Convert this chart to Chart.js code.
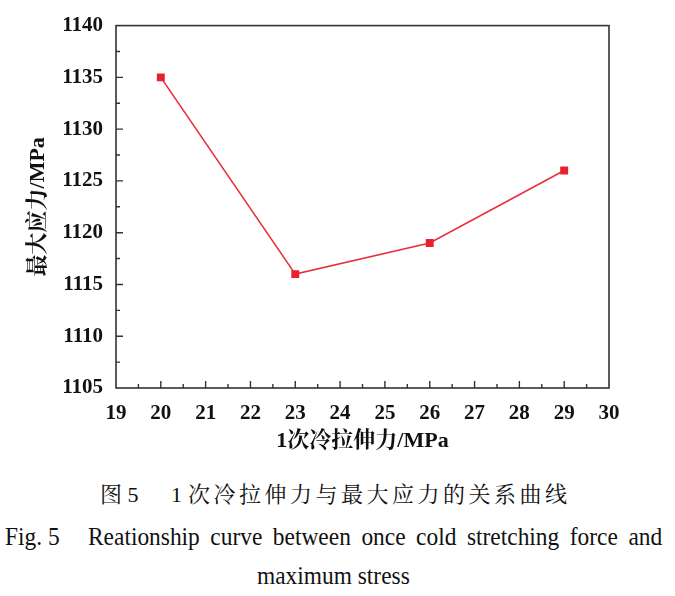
<!DOCTYPE html>
<html>
<head>
<meta charset="utf-8">
<script src="https://cdn.jsdelivr.net/npm/chart.js@4.4.0/dist/chart.umd.min.js"></script>
<style>
  body { margin: 0; background: #fff; }
  #wrap { position: relative; width: 675px; height: 596px; overflow: hidden; }
  #box { position: absolute; left: 0; top: 0; width: 675px; height: 460px; }
  .cap { position: absolute; white-space: nowrap; color: #111; line-height: 1;
         font-family: "Liberation Serif", "Noto Serif CJK SC", serif; font-size: 22px; }
  .en { font-size: 26px; transform: scaleX(0.9); transform-origin: 0 0; }
  .zh { letter-spacing: 3.5px; }
  #c1a { left: 100px; top: 484px; }
  #c1b { left: 171px; top: 484px; }
  #c1c { left: 188px; top: 484px; }
  #c2a { left: 5px; top: 524px; }
  #c2b { left: 88px; top: 524px; width: 638px; text-align: justify; text-align-last: justify; }
  #c3 { left: 257px; top: 563px; }
</style>
</head>
<body>
<div id="wrap">
  <div id="box"><canvas id="stressChart"></canvas></div>
  <div class="cap" id="c1a">图 5</div>
  <div class="cap" id="c1b">1</div>
  <div class="cap zh" id="c1c">次冷拉伸力与最大应力的关系曲线</div>
  <div class="cap en" id="c2a">Fig. 5</div>
  <div class="cap en" id="c2b">Reationship curve between once cold stretching force and</div>
  <div class="cap en" id="c3">maximum stress</div>
</div>
<script>
// data
const stretchForce = [20, 23, 26, 29];
const maxStress = [1135, 1116, 1119, 1126];
const xTitle = '1次冷拉伸力/MPa';
const yTitle = '最大应力/MPa';

const axisColor = '#333';
const lineRed = '#e8303c';
const serif = '"Liberation Serif", "Noto Serif CJK SC", serif';

// box frame + inward major/minor ticks
const frame = {
  id: 'frame',
  beforeDatasetsDraw(chart) {
    const { ctx, chartArea: a, scales: { x, y } } = chart;
    ctx.save();
    ctx.strokeStyle = axisColor;
    ctx.lineWidth = 1.6;
    ctx.strokeRect(a.left, a.top, a.right - a.left, a.bottom - a.top);
    ctx.lineWidth = 1.4;
    ctx.beginPath();
    for (let v = x.min; v <= x.max; v += 0.5) {
      const px = x.getPixelForValue(v);
      const len = Number.isInteger(v) ? 7 : 4;
      if (v === x.min || v === x.max) continue;
      ctx.moveTo(px, a.bottom);
      ctx.lineTo(px, a.bottom - len);
    }
    for (let v = y.min; v <= y.max; v += 2.5) {
      const py = y.getPixelForValue(v);
      const len = v % 5 === 0 ? 7 : 4;
      if (v === y.min || v === y.max) continue;
      ctx.moveTo(a.left, py);
      ctx.lineTo(a.left + len, py);
    }
    ctx.stroke();
    ctx.restore();
  }
};

const tickFont = { family: serif, size: 21, weight: 'bold' };
const titleFont = { family: serif, size: 22, weight: 'bold' };

new Chart(document.getElementById('stressChart'), {
  type: 'line',
  data: {
    datasets: [{
      data: stretchForce.map((v, i) => ({ x: v, y: maxStress[i] })),
      borderColor: lineRed,
      backgroundColor: '#e8212e',
      borderWidth: 1.6,
      pointStyle: 'rect',
      pointRadius: 5.6,
      pointHoverRadius: 5.6,
      pointBorderWidth: 0,
      tension: 0
    }]
  },
  options: {
    responsive: true,
    maintainAspectRatio: false,
    animation: false,
    layout: { padding: { top: 22, right: 66, left: 0, bottom: 0 } },
    plugins: { legend: { display: false }, tooltip: { enabled: false } },
    scales: {
      x: {
        type: 'linear',
        min: 19, max: 30,
        grid: { display: false, drawTicks: false },
        border: { display: false },
        ticks: { stepSize: 1, color: '#111', font: tickFont, padding: 13, maxRotation: 0, callback: v => String(v) },
        title: { display: true, text: xTitle, color: '#111', font: titleFont, padding: { top: 0, bottom: 5 } },
        afterFit(s) { s.height = 72; }
      },
      y: {
        min: 1105, max: 1140,
        grid: { display: false, drawTicks: false },
        border: { display: false },
        ticks: { stepSize: 5, color: '#111', font: tickFont, padding: 13, callback: v => String(v) },
        title: { display: true, text: yTitle, color: '#111', font: titleFont, padding: { top: 25, bottom: 0 } },
        afterFit(s) { s.width = 116; }
      }
    }
  },
  plugins: [frame]
});
</script>
</body>
</html>
